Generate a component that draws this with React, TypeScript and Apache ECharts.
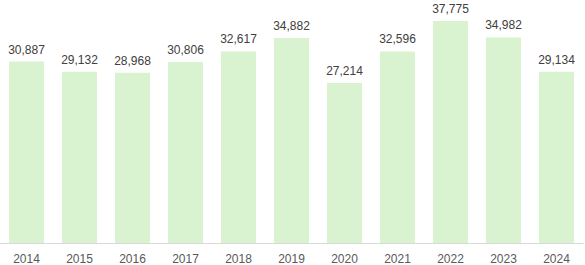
import React, { useEffect, useRef } from "react";
import * as echarts from "echarts";

const categories = ["2014", "2015", "2016", "2017", "2018", "2019", "2020", "2021", "2022", "2023", "2024"];
const values = [30887, 29132, 28968, 30806, 32617, 34882, 27214, 32596, 37775, 34982, 29134];

export default function App() {
  const ref = useRef<HTMLDivElement>(null);
  useEffect(() => {
    if (!ref.current) return;
    const chart = echarts.init(ref.current, undefined, { renderer: "svg" });
    chart.setOption({
      animation: false,
      grid: { left: 0, right: 2, top: 8, bottom: 22, containLabel: false },
      xAxis: {
        type: "category",
        data: categories,
        axisLine: { lineStyle: { color: "#d9d9d9", width: 1 } },
        axisTick: { show: false },
        axisLabel: {
          color: "#595959",
          fontSize: 12,
          fontFamily: "Liberation Sans, Arial, sans-serif",
          margin: 10,
        },
      },
      yAxis: {
        type: "value",
        min: 0,
        max: 40000,
        show: false,
        splitLine: { show: false },
      },
      series: [
        {
          type: "bar",
          data: values,
          barCategoryGap: "34%",
          itemStyle: { color: "#d9f2d0" },
          label: {
            show: true,
            position: "top",
            distance: 6,
            color: "#404040",
            fontSize: 12,
            fontFamily: "Liberation Sans, Arial, sans-serif",
            formatter: (p: any) => p.value.toLocaleString("en-US"),
          },
        },
      ],
    });
    return () => chart.dispose();
  }, []);
  return <div ref={ref} style={{ width: 585, height: 265, position: "absolute", left: 0, top: 0 }} />;
}
